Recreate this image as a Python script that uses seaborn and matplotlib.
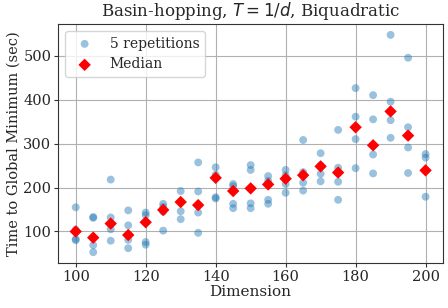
import numpy as np
import pandas as pd
import matplotlib
matplotlib.use("Agg")
import matplotlib.pyplot as plt
import seaborn as sns

dims = [100, 105, 110, 115, 120, 125, 130, 135, 140, 145, 150,
        155, 160, 165, 170, 175, 180, 185, 190, 195, 200]

# 5 repetitions per dimension (seconds)
reps = [
    [155, 104, 100, 83, 80],
    [133, 131, 86, 69, 53],
    [218, 132, 118, 105, 79],
    [148, 114, 92, 81, 62],
    [143, 137, 121, 76, 70],
    [163, 156, 149, 145, 102],
    [192, 168, 167, 146, 128],
    [257, 191, 160, 143, 97],
    [246, 229, 222, 178, 175],
    [208, 203, 192, 163, 153],
    [251, 240, 198, 164, 153],
    [226, 215, 207, 172, 163],
    [240, 228, 220, 208, 188],
    [308, 235, 228, 211, 193],
    [278, 250, 248, 231, 214],
    [331, 245, 234, 213, 172],
    [426, 361, 337, 310, 244],
    [410, 355, 296, 275, 232],
    [547, 395, 373, 353, 313],
    [495, 337, 318, 291, 233],
    [276, 268, 239, 238, 179],
]

df = pd.DataFrame([(d, t) for d, row in zip(dims, reps) for t in row],
                  columns=["Dimension", "Time"])
med = pd.DataFrame({"Dimension": dims,
                    "Time": [np.median(r) for r in reps]})

sns.set_style("ticks")
plt.rcParams["font.family"] = ["DejaVu Serif"]

fig, ax = plt.subplots(figsize=(4.48, 3.08), dpi=100)
fig.subplots_adjust(left=0.13, right=0.989, top=0.922, bottom=0.146)

sns.scatterplot(data=df, x="Dimension", y="Time", ax=ax, color="#1f77b4",
                alpha=0.45, s=32, edgecolor="none", label="5 repetitions")
sns.scatterplot(data=med, x="Dimension", y="Time", ax=ax, color="red",
                marker="D", s=40, edgecolor="none", label="Median")

ax.grid(True, color="#b0b0b0", linewidth=0.8)
for sp in ax.spines.values():
    sp.set_color("#333333")
ax.set_xticks([100, 120, 140, 160, 180, 200])
ax.set_yticks([100, 200, 300, 400, 500])
ax.tick_params(labelsize=10.5, length=3, pad=2, color="#333333")
ax.set_xlabel("Dimension", fontsize=11, labelpad=1)
ax.set_ylabel("Time to Global Minimum (sec)", fontsize=10.5, labelpad=2)
ax.set_title("Basin-hopping, $T=1/d$, Biquadratic", fontsize=12)
ax.legend(loc="upper left", fontsize=10)

plt.savefig("out.png", dpi=100)
